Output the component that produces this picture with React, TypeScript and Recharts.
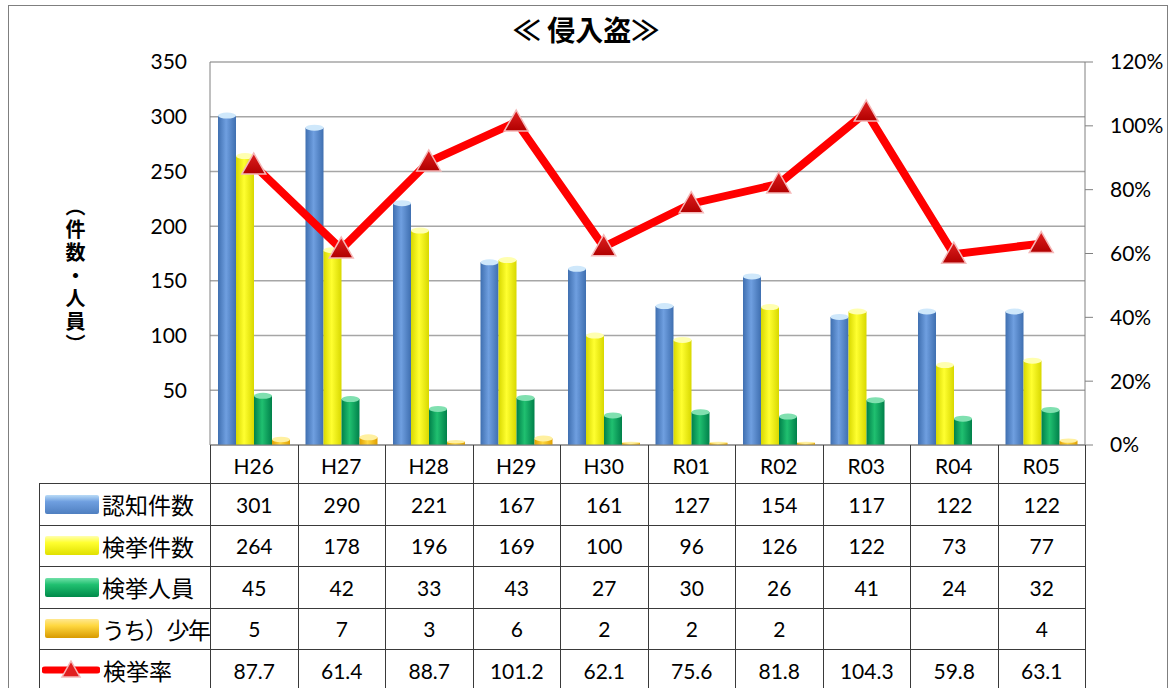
// 侵入盗 chart: four cylinder-ish bar series on the count axis, the clearance rate
// as a thick red line on the % axis, and a data table underneath.
import React from "react";
import { Bar, CartesianGrid, ComposedChart, Line, XAxis, YAxis } from "recharts";

const years = ["H26", "H27", "H28", "H29", "H30", "R01", "R02", "R03", "R04", "R05"];
const ninchiKensu = [301, 290, 221, 167, 161, 127, 154, 117, 122, 122];
const kenkyoKensu = [264, 178, 196, 169, 100, 96, 126, 122, 73, 77];
const kenkyoJinin = [45, 42, 33, 43, 27, 30, 26, 41, 24, 32];
const uchiShonen: (number | null)[] = [5, 7, 3, 6, 2, 2, 2, null, null, 4];
const kenkyoRitsu = [87.7, 61.4, 88.7, 101.2, 62.1, 75.6, 81.8, 104.3, 59.8, 63.1];
const leftTicks = [0, 50, 100, 150, 200, 250, 300, 350];
const rightTicks = [0, 20, 40, 60, 80, 100, 120];

const W = 1172;
const H = 688;
const PLOT_L = 210;
const PLOT_R = 1085;
const PLOT_T = 62;
const PLOT_B = 445;
const FONT = "Lato, 'Noto Sans CJK JP', sans-serif";
const JP = "'Noto Sans CJK JP', sans-serif";

const bars = [
  { key: "ninchi", label: "認知件数", grad: "gBlue", cap: "#cfe8fb", edge: "#3f6fb0", mid: "#6f9fe0", swTop: "#b9dbf7", swBot: "#4f7fc0" },
  { key: "kensu", label: "検挙件数", grad: "gYellow", cap: "#ffffb0", edge: "#d8d800", mid: "#ffff30", swTop: "#ffffb0", swBot: "#e0e000" },
  { key: "jinin", label: "検挙人員", grad: "gGreen", cap: "#80e0b0", edge: "#00804a", mid: "#20c070", swTop: "#70e0a8", swBot: "#008a4a" },
  { key: "shonen", label: "うち）少年", grad: "gOrange", cap: "#fff0a0", edge: "#e0a000", mid: "#ffd840", swTop: "#ffe890", swBot: "#d89a00" },
];

const tableRows: { label: string; values: (number | null)[]; fmt?: (v: number) => string }[] = [
  { label: "認知件数", values: ninchiKensu },
  { label: "検挙件数", values: kenkyoKensu },
  { label: "検挙人員", values: kenkyoJinin },
  { label: "うち）少年", values: uchiShonen },
  { label: "検挙率", values: kenkyoRitsu, fmt: (v) => v.toFixed(1) },
];

const data = years.map((year, i) => ({
  year,
  ninchi: ninchiKensu[i],
  kensu: kenkyoKensu[i],
  jinin: kenkyoJinin[i],
  shonen: uchiShonen[i],
  ritsu: kenkyoRitsu[i],
}));

const CylBar = (props: any) => {
  const { x, y, width, height, grad, cap } = props;
  if (!height || height <= 0) return null;
  const ry = Math.min(3, height / 2);
  return (
    <g>
      <rect x={x} y={y} width={width} height={height} fill={`url(#${grad})`} />
      <ellipse cx={x + width / 2} cy={y} rx={width / 2} ry={ry} fill={cap} />
    </g>
  );
};

const TriDot = (props: any) => {
  const { cx, cy } = props;
  if (cx == null || cy == null) return null;
  return (
    <path
      d={`M${cx},${cy - 12} L${cx + 12},${cy + 9} L${cx - 12},${cy + 9} Z`}
      fill="url(#gTri)" stroke="#f5b8b8" strokeWidth={1.5}
    />
  );
};

export default function App() {
  const colW = (PLOT_R - PLOT_L) / years.length;
  const headerH = 38;
  const rowH = 41.5;
  const lineColor = "#3a3a3a";

  return (
    <div style={{ position: "absolute", left: 0, top: 0, width: W, height: H, background: "#fff", overflow: "hidden", fontFamily: FONT }}>
      <div style={{ position: "absolute", left: 8, top: 5, width: 1160, height: 700, border: "1.5px solid #7f7f7f", boxSizing: "border-box" }} />
      <div style={{ position: "absolute", left: 0, width: W, top: 9, textAlign: "center", fontSize: 28, fontWeight: 700, color: "#000", fontFamily: JP }}>
        ≪ 侵入盗≫
      </div>
      <div style={{
        position: "absolute", left: 61, top: 196, writingMode: "vertical-rl", fontSize: 20, fontWeight: 700,
        lineHeight: "28px", color: "#000", letterSpacing: 3, fontFamily: JP,
      }}>
        （件数・人員）
      </div>

      <div style={{ position: "absolute", left: 0, top: 0 }}>
        <ComposedChart width={W} height={H} data={data} barGap={0} barCategoryGap={0}
          margin={{ top: PLOT_T, bottom: H - PLOT_B - 40, left: PLOT_L - 60, right: W - PLOT_R - 60 }}>
          <defs>
            {bars.map((b) => (
              <linearGradient key={b.grad} id={b.grad} x1="0" y1="0" x2="1" y2="0">
                <stop offset="0%" stopColor={b.edge} />
                <stop offset="45%" stopColor={b.mid} />
                <stop offset="100%" stopColor={b.edge} />
              </linearGradient>
            ))}
            <linearGradient id="gTri" x1="0" y1="0" x2="0" y2="1">
              <stop offset="0%" stopColor="#e02020" />
              <stop offset="100%" stopColor="#b00000" />
            </linearGradient>
          </defs>
          <CartesianGrid yAxisId="left" vertical={false} stroke="#a6a6a6" strokeWidth={1.5} />
          <XAxis dataKey="year" axisLine={{ stroke: "#808080" }} tickLine={false} tickMargin={8} height={40}
            tick={{ fontSize: 21, fill: "#000", fontFamily: FONT }} />
          <YAxis yAxisId="left" domain={[0, 350]} ticks={leftTicks} width={60}
            tickFormatter={(v: number) => (v === 0 ? "" : String(v))}
            axisLine={{ stroke: "#808080" }} tickLine={false} tickSize={0} tickMargin={23}
            tick={{ fontSize: 21, fill: "#000", fontFamily: FONT }} />
          <YAxis yAxisId="right" orientation="right" domain={[0, 120]} ticks={rightTicks} width={60}
            tickFormatter={(v: number) => `${v}%`}
            axisLine={{ stroke: "#808080" }} tickLine={{ stroke: "#808080" }} tickSize={8} tickMargin={17}
            tick={{ fontSize: 21, fill: "#000", fontFamily: FONT }} />
          {bars.map((b) => (
            <Bar key={b.key} yAxisId="left" dataKey={b.key} barSize={18} isAnimationActive={false}
              shape={(p: any) => <CylBar {...p} grad={b.grad} cap={b.cap} />} />
          ))}
          <Line yAxisId="right" dataKey="ritsu" stroke="#ff0000" strokeWidth={8} isAnimationActive={false}
            dot={<TriDot />} activeDot={false} />
        </ComposedChart>
      </div>

      {/* data table */}
      {years.map((_, i) => (
        <div key={`h${i}`} style={{
          position: "absolute", left: PLOT_L + colW * i, top: PLOT_B, width: colW + 1, height: headerH + 1,
          borderLeft: `1px solid ${lineColor}`, borderRight: `1px solid ${lineColor}`, boxSizing: "border-box",
        }} />
      ))}
      {tableRows.map((row, r) => {
        const top = PLOT_B + headerH + rowH * r;
        const b = bars[r];
        return (
          <React.Fragment key={row.label}>
            <div style={{
              position: "absolute", left: 39, top, width: PLOT_L - 39 + 1, height: rowH + 1,
              border: `1px solid ${lineColor}`, boxSizing: "border-box", display: "flex", alignItems: "center",
            }}>
              {b ? (
                <div style={{
                  marginLeft: 5, width: 54, height: 19, borderRadius: 2,
                  background: `linear-gradient(to bottom, ${b.swTop} 0%, ${b.mid} 35%, ${b.swBot} 100%)`,
                }} />
              ) : (
                <svg width={58} height={20} style={{ marginLeft: 2 }}>
                  <line x1={3} y1={10} x2={55} y2={10} stroke="#ff0000" strokeWidth={7} strokeLinecap="round" />
                  <path d="M29,1 L38,17 L20,17 Z" fill="#e02020" stroke="#f5b8b8" strokeWidth={1.5} />
                </svg>
              )}
              <span style={{ marginLeft: 3, fontSize: 23, color: "#000", fontFamily: JP, whiteSpace: "nowrap", letterSpacing: r === 3 ? -1.5 : 0 }}>
                {row.label}
              </span>
            </div>
            {row.values.map((v, i) => (
              <div key={i} style={{
                position: "absolute", left: PLOT_L + colW * i, top, width: colW + 1, height: rowH + 1,
                border: `1px solid ${lineColor}`, boxSizing: "border-box", display: "flex",
                alignItems: "center", justifyContent: "center", fontSize: 21, color: "#000",
              }}>
                {v == null ? "" : row.fmt ? row.fmt(v) : String(v)}
              </div>
            ))}
          </React.Fragment>
        );
      })}
    </div>
  );
}
